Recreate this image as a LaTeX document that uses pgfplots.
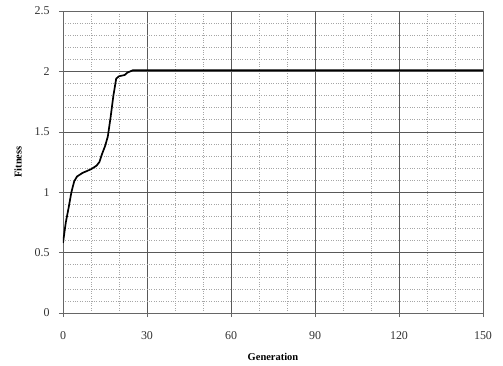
\documentclass[border=0pt]{standalone}
\usepackage{pgfplots}
\pgfplotsset{compat=1.18}
\usepackage{fontspec}
\setmainfont{Liberation Serif}
\begin{document}
\begin{tikzpicture}[x=1bp,y=1bp]
\begin{axis}[name=ax,
  scale only axis, width=420bp, height=302bp,
  xmin=0, xmax=150, ymin=0, ymax=2.5,
  xtick={0,30,60,90,120,150}, ytick={0,0.5,1,1.5,2,2.5},
  yticklabels={0,0.5,1,1.5,2,2.5},
  minor x tick num=2, minor y tick num=4,
  grid=both,
  major grid style={black!65, line width=0.5pt},
  minor grid style={black!35, dotted, line width=0.5pt},
  axis line style={black!60, line width=0.5pt},
  tick align=outside, major tick length=4bp, minor tick length=0pt,
  tick style={black!60},
  xtick pos=bottom, ytick pos=left,
  /pgf/number format/assume math mode=true,
  tick label style={font=\fontsize{12}{14}\selectfont, black!80},
  yticklabel style={xshift=-6bp},
  xticklabel style={yshift=-11bp},
  xlabel={\textbf{Generation}}, ylabel={\textbf{Fitness}},
  label style={font=\fontsize{10.5}{12}\selectfont},
  xlabel style={yshift=-7bp},
  ylabel style={yshift=6bp},
]
\addplot[black, line width=1.7pt] coordinates {
(0,0.58) (1,0.75) (2,0.87) (3,1.0) (4,1.09) (5,1.13) (7,1.16) (10,1.19) (12,1.22) (13,1.25) (14,1.32) (15,1.38) (16,1.46) (17,1.62) (18,1.80) (19,1.94) (20,1.96) (22,1.97) (23,1.99) (25,2.01) (150,2.01)
};
\end{axis}
\pgfresetboundingbox
\path ([shift={(-63bp,-53bp)}]ax.south west) rectangle ([shift={(20bp,11bp)}]ax.north east);
\end{tikzpicture}
\end{document}
